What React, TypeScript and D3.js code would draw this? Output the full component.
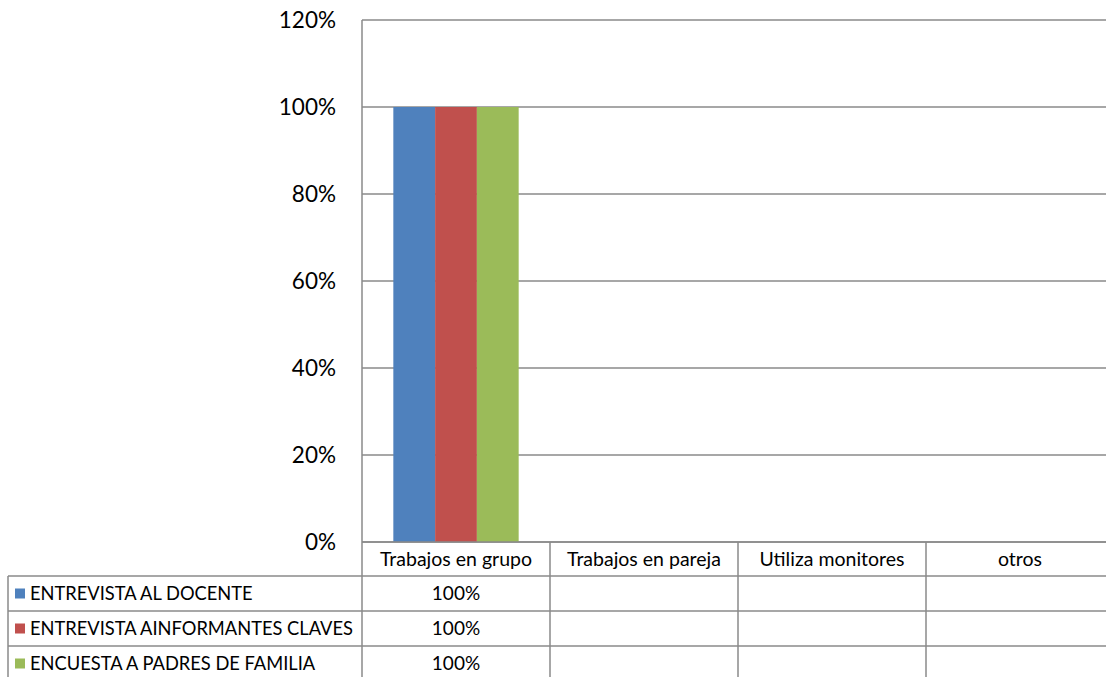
import React from "react";
import * as d3 from "d3";

const categories = ["Trabajos en grupo", "Trabajos en pareja", "Utiliza monitores", "otros"];
const seriesNames = ["ENTREVISTA AL DOCENTE", "ENTREVISTA AINFORMANTES CLAVES", "ENCUESTA A PADRES DE FAMILIA"];
const seriesColors = ["#4F81BD", "#C0504D", "#9BBB59"];
const docenteValues: (number | null)[] = [1, null, null, null];
const informantesValues: (number | null)[] = [1, null, null, null];
const padresValues: (number | null)[] = [1, null, null, null];
const yTicks = [0, 0.2, 0.4, 0.6, 0.8, 1.0, 1.2];

const seriesValues = [docenteValues, informantesValues, padresValues];

const W = 1106;
const H = 677;
const plotLeft = 362;
const plotRight = 1114;
const plotTop = 20;
const plotBottom = 542;
const legendLeft = 8;
const rowH = 35;
const headerH = 34;
const FONT = "Lato, 'Open Sans', sans-serif";
const LINE = "#8a8a8a";

export default function App() {
  const x = d3.scaleBand<string>().domain(categories).range([plotLeft, plotRight]).paddingInner(0).paddingOuter(0);
  const y = d3.scaleLinear().domain([0, 1.2]).range([plotBottom, plotTop]);
  const inner = d3
    .scaleBand<number>()
    .domain(seriesNames.map((_, i) => i))
    .range([0, x.bandwidth()])
    .paddingInner(0)
    .paddingOuter(0.75);
  const pct = d3.format(".0%");

  const headerTop = plotBottom;
  const headerBottom = headerTop + headerH;
  const rowTops = seriesNames.map((_, i) => headerBottom + i * rowH);
  const tableBottom = headerBottom + seriesNames.length * rowH;
  const colEdges = [...categories.map((c) => x(c) as number), plotRight];

  return (
    <svg
      width={W}
      height={H}
      style={{ position: "absolute", left: 0, top: 0, background: "#fff" }}
      fontFamily={FONT}
    >
      <rect x={0} y={0} width={W} height={H} fill="#fff" />
      {/* gridlines */}
      {yTicks.map((t) => (
        <line key={t} x1={plotLeft} x2={plotRight} y1={y(t)} y2={y(t)} stroke={LINE} strokeWidth={1.5} />
      ))}
      {/* y axis line */}
      <line x1={plotLeft} x2={plotLeft} y1={plotTop} y2={plotBottom} stroke={LINE} strokeWidth={1.5} />
      {/* tick labels */}
      {yTicks.map((t) => (
        <text key={t} x={336} y={y(t)} dy="0.35em" textAnchor="end" fontSize={22.5} fill="#000">
          {pct(t)}
        </text>
      ))}
      {/* bars */}
      {categories.map((c, ci) =>
        seriesValues.map((vals, si) => {
          const v = vals[ci];
          if (v == null) return null;
          const bx = (x(c) as number) + (inner(si) as number);
          return (
            <rect key={`${ci}-${si}`} x={bx} y={y(v)} width={inner.bandwidth()} height={y(0) - y(v)} fill={seriesColors[si]} />
          );
        })
      )}
      {/* data table */}
      <line x1={plotLeft} x2={plotRight} y1={headerTop} y2={headerTop} stroke={LINE} strokeWidth={1.5} />
      <line x1={legendLeft} x2={plotRight} y1={headerBottom} y2={headerBottom} stroke={LINE} strokeWidth={1.5} />
      {rowTops.map((rt, i) => (
        <line key={i} x1={legendLeft} x2={plotRight} y1={rt + rowH} y2={rt + rowH} stroke={LINE} strokeWidth={1.5} />
      ))}
      <line x1={legendLeft} x2={legendLeft} y1={headerBottom} y2={tableBottom} stroke={LINE} strokeWidth={1.5} />
      {colEdges.map((cx, i) => (
        <line key={i} x1={cx} x2={cx} y1={headerTop} y2={tableBottom} stroke={LINE} strokeWidth={1.5} />
      ))}
      {categories.map((c) => (
        <text
          key={c}
          x={(x(c) as number) + x.bandwidth() / 2}
          y={headerTop + headerH / 2}
          dy="0.35em"
          textAnchor="middle"
          fontSize={19.5}
          fill="#000"
        >
          {c}
        </text>
      ))}
      {seriesNames.map((s, si) => (
        <g key={s}>
          <rect x={15} y={rowTops[si] + rowH / 2 - 5} width={10} height={10} fill={seriesColors[si]} />
          <text x={30} y={rowTops[si] + rowH / 2} dy="0.35em" fontSize={18.3} fill="#000">
            {s}
          </text>
          {categories.map((c, ci) => {
            const v = seriesValues[si][ci];
            if (v == null) return null;
            return (
              <text
                key={c}
                x={(x(c) as number) + x.bandwidth() / 2}
                y={rowTops[si] + rowH / 2}
                dy="0.35em"
                textAnchor="middle"
                fontSize={19}
                fill="#000"
              >
                {pct(v)}
              </text>
            );
          })}
        </g>
      ))}
    </svg>
  );
}
